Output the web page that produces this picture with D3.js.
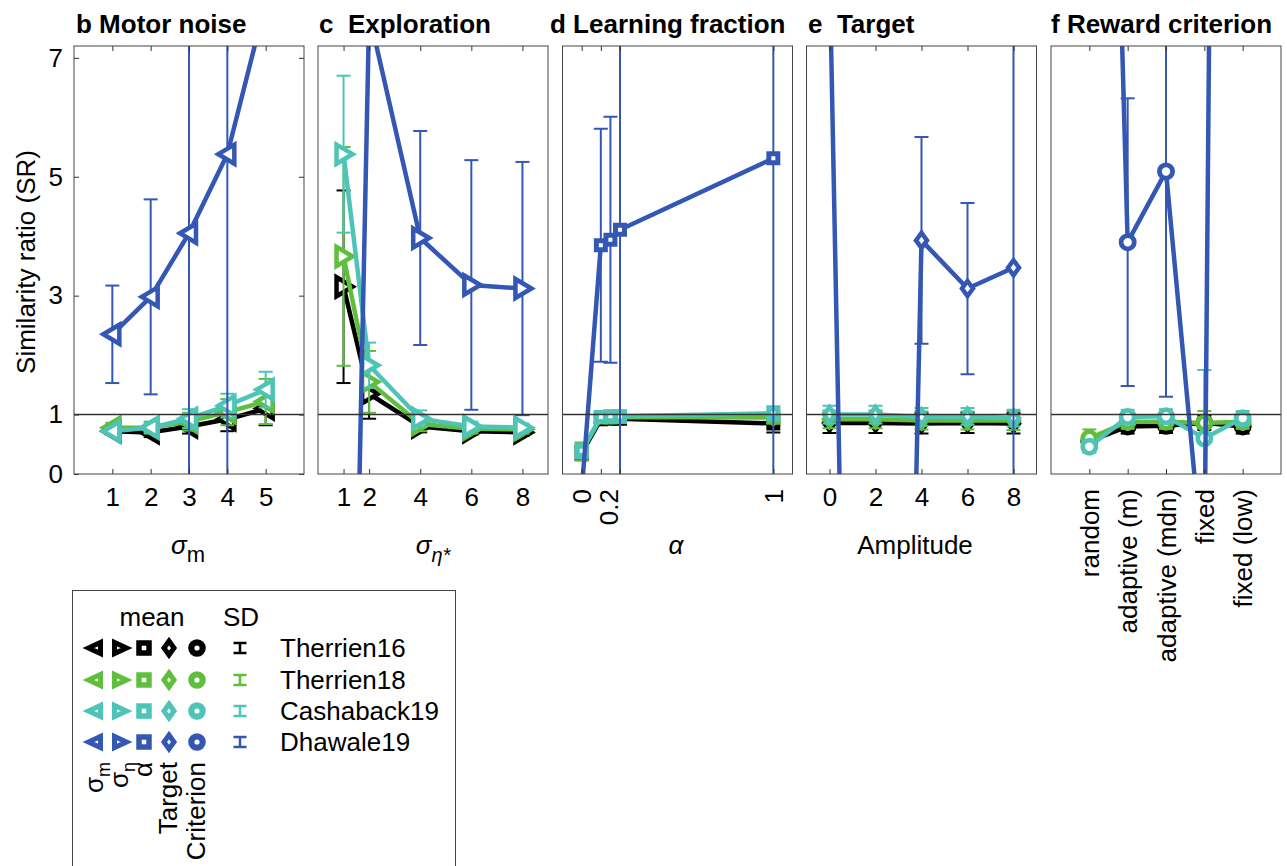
<!DOCTYPE html>
<html><head><meta charset="utf-8">
<script src="https://cdn.jsdelivr.net/npm/d3@7"></script>
<style>
body{margin:0;background:#fff}
text{font-family:"Liberation Sans",Arial,Helvetica,sans-serif;fill:#000}
</style>
</head><body>
<svg id="chart" width="1287" height="866"></svg>
<script>
// ---------------- data ----------------
const studies = ["Therrien16", "Therrien18", "Cashaback19", "Dhawale19"];
const studyColors = ["#000000", "#5fbe3c", "#4ec4b7", "#3457b4"];

const yTicks = [0, 1, 3, 5, 7];

const motorX = [1, 2, 3, 4, 5];
const motorMean = [
  [0.72, 0.70, 0.80, 0.92, 1.10],
  [0.78, 0.78, 0.88, 1.04, 1.22],
  [0.72, 0.78, 0.93, 1.15, 1.42],
  [2.35, 2.98, 4.05, 5.38, 7.93]
];
const motorSD = [
  [0.06, 0.08, 0.12, 0.20, 0.28],
  [0.08, 0.10, 0.15, 0.22, 0.38],
  [0.06, 0.08, 0.16, 0.20, 0.30],
  [0.82, 1.64, 5.00, 6.00, 0.50]
];

const explX = [1, 2, 4, 6, 8];
const explMean = [
  [3.15, 1.35, 0.80, 0.72, 0.70],
  [3.66, 1.55, 0.84, 0.76, 0.75],
  [5.38, 1.83, 0.93, 0.80, 0.78],
  [-13.0, 7.74, 3.97, 3.18, 3.12]
];
const explSD = [
  [1.62, 0.42, 0.10, 0.06, 0.06],
  [1.84, 0.52, 0.12, 0.08, 0.07],
  [1.32, 0.38, 0.14, 0.08, 0.07],
  [2.00, 0.40, 1.80, 2.10, 2.13]
];

const alphaX = [0, 0.1, 0.15, 0.2, 1];
const alphaTicks = [0, 0.1, 0.2, 1];
const alphaTickLabels = ["0", "", "0.2", "1"];
const alphaMean = [
  [0.35, 0.92, 0.93, 0.93, 0.85],
  [0.38, 0.95, 0.95, 0.96, 0.95],
  [0.39, 0.96, 0.97, 0.97, 1.02],
  [-0.30, 3.85, 3.94, 4.11, 5.31]
];
const alphaSD = [
  [0.12, 0.06, 0.06, 0.06, 0.15],
  [0.15, 0.08, 0.08, 0.08, 0.10],
  [0.12, 0.10, 0.10, 0.10, 0.12],
  [0.10, 1.96, 2.07, 5.00, 6.00]
];

const targetX = [0, 2, 4, 6, 8];
const targetMean = [
  [0.86, 0.86, 0.85, 0.86, 0.85],
  [0.92, 0.92, 0.90, 0.90, 0.90],
  [1.00, 1.00, 0.96, 0.97, 0.94],
  [8.60, -31.0, 3.93, 3.12, 3.47]
];
const targetSD = [
  [0.17, 0.17, 0.17, 0.17, 0.17],
  [0.15, 0.15, 0.15, 0.15, 0.16],
  [0.15, 0.15, 0.15, 0.14, 0.14],
  [0.50, 1.00, 1.74, 1.44, 5.00]
];

const critX = [1, 2, 3, 4, 5];
const critLabels = ["random", "adaptive (m)", "adaptive (mdn)", "fixed", "fixed (low)"];
const critMean = [
  [0.55, 0.80, 0.81, 0.86, 0.80],
  [0.60, 0.88, 0.88, 0.86, 0.88],
  [0.46, 0.96, 0.97, 0.60, 0.94],
  [27.0, 3.90, 5.09, -1.80, 72.0]
];
const critSD = [
  [0.10, 0.12, 0.12, 0.12, 0.12],
  [0.15, 0.12, 0.12, 0.20, 0.12],
  [0.10, 0.12, 0.12, 1.15, 0.12],
  [1.00, 2.42, 3.79, 0.50, 1.00]
];

const panelTitles = ["b Motor noise", "c  Exploration", "d Learning fraction", "e  Target", "f Reward criterion"];

// ---------------- layout ----------------
const svg = d3.select("#chart");
const TOP = 46, BOTTOM = 474, PW = 230;
const lefts = [74, 318, 562.5, 806.5, 1051];
const titleX = [76, 319, 550, 808, 1051];
const FS = 26;
const y = d3.scaleLinear().domain([0, 7.2]).range([BOTTOM, TOP]);

function markerPath(type, big) {
  const p = d3.path();
  if (type === "left" || type === "right") {
    const s = type === "left" ? 1 : -1;
    const a = big ? 9 : 6.5, b = big ? 7 : 5.5, h = big ? 9.5 : 5.5;
    p.moveTo(-a * s, 0); p.lineTo(b * s, -h); p.lineTo(b * s, h); p.closePath();
  } else if (type === "square") {
    const h = big ? 4.5 : 5;
    p.rect(-h, -h, 2 * h, 2 * h);
  } else if (type === "diamond") {
    const w = big ? 5.5 : 5, h = big ? 7.5 : 7;
    p.moveTo(0, -h); p.lineTo(w, 0); p.lineTo(0, h); p.lineTo(-w, 0); p.closePath();
  } else {
    const r = big ? 6.6 : 5.7;
    p.arc(0, 0, r, 0, 2 * Math.PI);
  }
  return p.toString();
}
const markerStroke = {left: 4.5, right: 4.5, square: 5, diamond: 4.5, circle: 4.75};
const legendStroke = {left: 5, right: 5, square: 5.5, diamond: 5, circle: 6.2};

const panels = [
  {x: motorX, mean: motorMean, sd: motorSD, domain: [0, 6], ticks: motorX, labels: ["1","2","3","4","5"], rot: false, marker: "left"},
  {x: explX, mean: explMean, sd: explSD, domain: [0, 9], ticks: explX, labels: ["1","2","4","6","8"], rot: false, marker: "right"},
  {x: alphaX, mean: alphaMean, sd: alphaSD, domain: [-0.1, 1.1], ticks: alphaTicks, labels: alphaTickLabels, rot: true, marker: "square"},
  {x: targetX, mean: targetMean, sd: targetSD, domain: [-1, 9], ticks: targetX, labels: ["0","2","4","6","8"], rot: false, marker: "diamond"},
  {x: critX, mean: critMean, sd: critSD, domain: [0, 6], ticks: critX, labels: critLabels, rot: true, marker: "circle"}
];

const defs = svg.append("defs");

panels.forEach((p, i) => {
  const L = lefts[i];
  const x = d3.scaleLinear().domain(p.domain).range([L, L + PW]);
  const g = svg.append("g");
  const cid = "clip" + i;
  defs.append("clipPath").attr("id", cid)
    .append("rect").attr("x", L).attr("y", TOP).attr("width", PW).attr("height", BOTTOM - TOP);
  const pg = g.append("g").attr("clip-path", `url(#${cid})`);

  p.mean.forEach((m, s) => {
    const col = studyColors[s];
    const sd = p.sd[s];
    const sg = pg.append("g");
    const pts = p.x.map((xv, k) => ({x: xv, m: m[k], sd: sd[k]}));
    sg.selectAll("line.eb").data(pts).join("line").attr("class", "eb")
      .attr("x1", d => x(d.x)).attr("x2", d => x(d.x))
      .attr("y1", d => y(d.m - d.sd)).attr("y2", d => y(d.m + d.sd))
      .attr("stroke", col).attr("stroke-width", 2);
    [1, -1].forEach(sg2 => {
      sg.selectAll("line.cap" + (sg2 > 0 ? "u" : "d")).data(pts).join("line").attr("class", "cap" + (sg2 > 0 ? "u" : "d"))
        .attr("x1", d => x(d.x) - 7).attr("x2", d => x(d.x) + 7)
        .attr("y1", d => y(d.m + sg2 * d.sd)).attr("y2", d => y(d.m + sg2 * d.sd))
        .attr("stroke", col).attr("stroke-width", 2);
    });
    sg.append("path").datum(pts)
      .attr("d", d3.line().x(d => x(d.x)).y(d => y(d.m)))
      .attr("fill", "none").attr("stroke", col).attr("stroke-width", 4.5)
      .attr("stroke-linejoin", "round");
    sg.selectAll("path.mk").data(pts.filter(d => d.m > -1 && d.m < 8)).join("path").attr("class", "mk")
      .attr("transform", d => `translate(${x(d.x)},${y(d.m)})`)
      .attr("d", markerPath(p.marker, true))
      .attr("fill", "#fff").attr("stroke", col).attr("stroke-width", markerStroke[p.marker])
      .attr("stroke-linejoin", "miter");
  });

  g.append("line").attr("x1", L).attr("x2", L + PW).attr("y1", y(1)).attr("y2", y(1))
    .attr("stroke", "#333").attr("stroke-width", 1.5);

  const ax = d3.axisBottom(x).tickValues(p.ticks).tickFormat((d, k) => p.labels[k])
    .tickSizeInner(-5).tickSizeOuter(0).tickPadding(14);
  const axg = g.append("g").attr("transform", `translate(0,${BOTTOM})`).call(ax);
  axg.select(".domain").remove();
  axg.selectAll(".tick line").attr("stroke", "#333");
  axg.selectAll("text").attr("font-size", FS).attr("font-family", null);
  if (p.rot) {
    axg.selectAll("text").attr("transform", "rotate(-90)").attr("text-anchor", "end")
      .attr("x", -15).attr("y", 0).attr("dy", "0.35em");
    // the "0.2" label sits slightly left of its tick, as in the original figure
    if (i === 2) axg.selectAll("text").filter(function () { return this.textContent === "0.2"; }).attr("dy", "-0.08em");
  }
  const axt = d3.axisTop(x).tickValues(p.ticks).tickFormat("").tickSizeInner(-5).tickSizeOuter(0);
  const atg = g.append("g").attr("transform", `translate(0,${TOP})`).call(axt);
  atg.select(".domain").remove();
  atg.selectAll(".tick line").attr("stroke", "#333");

  if (i === 0) {
    const ay = d3.axisLeft(y).tickValues(yTicks).tickSizeInner(-5).tickSizeOuter(0).tickPadding(11);
    const ayg = g.append("g").attr("transform", `translate(${L},0)`).call(ay);
    ayg.select(".domain").remove();
    ayg.selectAll(".tick line").attr("stroke", "#333");
    ayg.selectAll("text").attr("font-size", FS).attr("font-family", null);
    const ayr = d3.axisRight(y).tickValues(yTicks).tickFormat("").tickSizeInner(-5).tickSizeOuter(0);
    const ayrg = g.append("g").attr("transform", `translate(${L + PW},0)`).call(ayr);
    ayrg.select(".domain").remove();
    ayrg.selectAll(".tick line").attr("stroke", "#333");
  }

  g.append("rect").attr("x", L).attr("y", TOP).attr("width", PW).attr("height", BOTTOM - TOP)
    .attr("fill", "none").attr("stroke", "#444").attr("stroke-width", 1);

  svg.append("text").attr("x", titleX[i]).attr("y", 33).attr("font-size", FS).attr("font-weight", "bold")
    .style("white-space", "pre").text(panelTitles[i]);
});

svg.append("text").attr("transform", `translate(35,262) rotate(-90)`).attr("text-anchor", "middle")
  .attr("font-size", FS).text("Similarity ratio (SR)");

const xl1 = svg.append("text").attr("x", 188).attr("y", 554).attr("text-anchor", "middle").attr("font-size", FS);
xl1.append("tspan").attr("font-style", "italic").text("σ");
xl1.append("tspan").attr("dy", 8).attr("font-size", 22).text("m");

const xl2 = svg.append("text").attr("x", 433).attr("y", 554).attr("text-anchor", "middle").attr("font-size", FS);
xl2.append("tspan").attr("font-style", "italic").text("σ");
xl2.append("tspan").attr("dy", 8).attr("font-size", 20).attr("font-style", "italic").text("η*");

svg.append("text").attr("x", 676).attr("y", 554).attr("text-anchor", "middle").attr("font-size", FS)
  .attr("font-style", "italic").text("α");
svg.append("text").attr("x", 915).attr("y", 554).attr("text-anchor", "middle").attr("font-size", FS).text("Amplitude");

// ---------------- legend ----------------
const lg = svg.append("g");
lg.append("rect").attr("x", 72.5).attr("y", 590.5).attr("width", 383).attr("height", 300)
  .attr("fill", "none").attr("stroke", "#444").attr("stroke-width", 1);
lg.append("text").attr("x", 152).attr("y", 626).attr("text-anchor", "middle").attr("font-size", FS).text("mean");
lg.append("text").attr("x", 241).attr("y", 626).attr("text-anchor", "middle").attr("font-size", FS).text("SD");
const legCols = [95, 120, 144, 169, 197];
const legRows = [648, 680, 711, 742];
const legMarkers = ["left", "right", "square", "diamond", "circle"];
studies.forEach((st, r) => {
  const col = studyColors[r];
  legMarkers.forEach((mk, c) => {
    lg.append("path").attr("transform", `translate(${legCols[c]},${legRows[r]})`)
      .attr("d", markerPath(mk, false)).attr("fill", "#fff").attr("stroke", col)
      .attr("stroke-width", legendStroke[mk]);
  });
  const sx = 240, sy = legRows[r];
  lg.append("line").attr("x1", sx).attr("x2", sx).attr("y1", sy - 5).attr("y2", sy + 5).attr("stroke", col).attr("stroke-width", 2.5);
  lg.append("line").attr("x1", sx - 6.5).attr("x2", sx + 6.5).attr("y1", sy - 5).attr("y2", sy - 5).attr("stroke", col).attr("stroke-width", 2.5);
  lg.append("line").attr("x1", sx - 6.5).attr("x2", sx + 6.5).attr("y1", sy + 5).attr("y2", sy + 5).attr("stroke", col).attr("stroke-width", 2.5);
  lg.append("text").attr("x", 280).attr("y", legRows[r] + 9).attr("font-size", FS).text(st);
});
const legLabels = [["σ", "m"], ["σ", "η"], ["α", ""], ["Target", ""], ["Criterion", ""]];
legLabels.forEach((lb, c) => {
  const t = lg.append("text").attr("transform", `translate(${legCols[c] - 1},762) rotate(-90)`)
    .attr("text-anchor", "end").attr("dy", "0.35em").attr("font-size", FS);
  t.append("tspan").text(lb[0]);
  if (lb[1]) t.append("tspan").attr("dy", 7).attr("font-size", 18).text(lb[1]);
});
</script>
</body></html>
